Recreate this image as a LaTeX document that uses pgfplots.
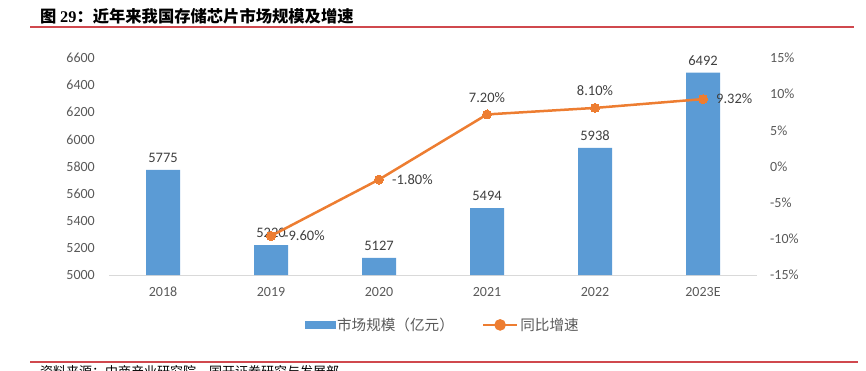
\documentclass[border=0pt]{standalone}
\usepackage{pgfplots}
\pgfplotsset{compat=1.18}
\usepackage{pgfplotstable}
\usepackage{fontspec}
\setmainfont{Carlito}
\newfontfamily\cjk{Noto Sans CJK SC}
\newfontfamily\titleserif{Liberation Serif}
\definecolor{barblue}{HTML}{5B9BD5}
\definecolor{lineorange}{HTML}{ED7D31}
\definecolor{ticktext}{HTML}{595959}
\definecolor{labeltext}{HTML}{404040}
\definecolor{axisgray}{HTML}{D9D9D9}
\definecolor{rulered}{HTML}{D0484E}
\pgfplotsset{/pgf/number format/assume math mode=true, /pgf/number format/1000 sep={}}

\pgfplotstableread{
x val
0 5775
1 5220
2 5127
3 5494
4 5938
5 6492
}\bars

\pgfplotstableread{
x g
1 -9.60
2 -1.80
3 7.20
4 8.10
5 9.32
}\growth

\pgfplotstableread{
x g
1 -9.60
2 -1.80
5 9.32
}\growthright

\pgfplotstableread{
x g
3 7.20
4 8.10
}\growthabove

\begin{document}
\begin{tikzpicture}
\path[use as bounding box] (0pt,0pt) rectangle (866pt,-371pt);
\node[anchor=base west, inner sep=0pt, font=\fontsize{16.3}{17}\selectfont\bfseries] at (40pt,-22.5pt) {\cjk 图 \titleserif 29\cjk ：近年来我国存储芯片市场规模及增速};
\draw[rulered, line width=1.2pt] (30pt,-27pt) -- (854pt,-27pt);
\draw[rulered, line width=1.2pt] (30pt,-362pt) -- (858pt,-362pt);
\node[anchor=north west, inner sep=0pt, font=\cjk\fontsize{13}{13}\selectfont, text=black] at (40pt,-365pt) {资料来源：中商产业研究院，国开证券研究与发展部};

\begin{axis}[
  at={(109pt,-275pt)}, anchor=south west, scale only axis,
  width=648pt, height=217pt,
  xmin=-0.5, xmax=5.5, ymin=5000, ymax=6600,
  ytick={5000,5200,...,6600},
  xtick={0,...,5}, xticklabels={2018,2019,2020,2021,2022,2023E},
  axis x line*=bottom, axis y line*=left,
  x axis line style={draw=axisgray, line width=0.8pt, -},
  y axis line style={draw=none},
  major tick length=0pt,
  tick label style={text=ticktext, font=\fontsize{14}{14}\selectfont},
  yticklabel style={inner sep=0pt, xshift=-14pt, anchor=east},
  xticklabel style={inner sep=0pt, yshift=-12pt, anchor=north},
  ybar, bar width=34pt,
  nodes near coords,
  nodes near coords style={text=labeltext, yshift=4pt, font=\fontsize{14.5}{14.5}\selectfont},
]
\addplot[fill=barblue, draw=none] table[x=x,y=val]{\bars};
\end{axis}

\begin{axis}[
  at={(109pt,-275pt)}, anchor=south west, scale only axis,
  width=648pt, height=217pt,
  xmin=-0.5, xmax=5.5, ymin=-15, ymax=15,
  ytick={-15,-10,...,15},
  axis y line*=right, axis x line=none,
  y axis line style={draw=none},
  major tick length=0pt,
  yticklabel={\pgfmathprintnumber{\tick}\%},
  yticklabel style={inner sep=0pt, xshift=13pt, anchor=west, text=ticktext, font=\fontsize{14}{14}\selectfont},
  legend style={at={(0.515,-0.23)}, anchor=center, draw=none, fill=none,
    legend columns=2, font=\cjk\fontsize{14.6}{14.6}\selectfont, text=ticktext,
    /tikz/every even column/.append style={column sep=26pt}},
  legend cell align=left,
]
\addlegendimage{legend image code/.code={\fill[barblue] (0pt,-3.5pt) rectangle (30pt,3.5pt);}}
\addlegendentry{市场规模（亿元）}
\addplot[lineorange, line width=2.5pt, mark=*, mark size=4.5pt,
  mark options={fill=lineorange, draw=lineorange, line width=0pt},
  legend image code/.code={\draw[lineorange, line width=2.5pt] (0pt,0pt)--(34pt,0pt); \fill[lineorange] (17pt,0pt) circle (4.5pt);}]
  table[x=x,y=g]{\growth};
\addlegendentry{同比增速}
\addplot[forget plot, only marks, mark=*, mark size=0pt, mark options={draw=none, fill=none},
  point meta=y,
  nodes near coords={\pgfmathprintnumber[fixed, fixed zerofill, precision=2]{\pgfplotspointmeta}\%},
  nodes near coords style={anchor=west, xshift=13pt, inner sep=0pt, text=labeltext, font=\fontsize{14.5}{14.5}\selectfont}]
  table[x=x,y=g]{\growthright};
\addplot[forget plot, only marks, mark=*, mark size=0pt, mark options={draw=none, fill=none},
  point meta=y,
  nodes near coords={\pgfmathprintnumber[fixed, fixed zerofill, precision=2]{\pgfplotspointmeta}\%},
  nodes near coords style={anchor=south, yshift=12pt, inner sep=0pt, text=labeltext, font=\fontsize{14.5}{14.5}\selectfont}]
  table[x=x,y=g]{\growthabove};
\end{axis}
\end{tikzpicture}
\end{document}
